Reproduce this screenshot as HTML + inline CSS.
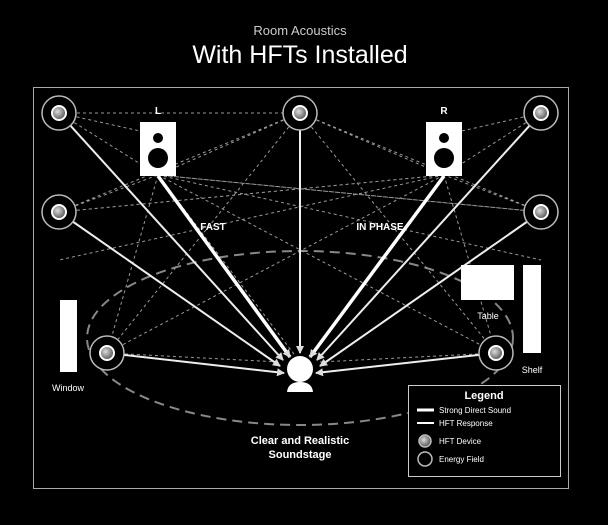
<!DOCTYPE html>
<html><head><style>
body{margin:0;background:#000;width:608px;height:520px;overflow:hidden;font-family:"Liberation Sans",sans-serif}
</style></head><body>
<svg width="608" height="520" xmlns="http://www.w3.org/2000/svg" font-family="Liberation Sans, sans-serif">
<defs>
<marker id="a" markerWidth="8" markerHeight="8" refX="7" refY="4" orient="auto" markerUnits="userSpaceOnUse"><path d="M0,0 L8,4 L0,8 z" fill="#ddd"/></marker>
<radialGradient id="g" cx="40%" cy="40%" r="60%"><stop offset="0" stop-color="#ddd"/><stop offset="1" stop-color="#555"/></radialGradient>
</defs>
<text x="300" y="35" fill="#ccc" font-size="13" text-anchor="middle">Room Acoustics</text>
<text x="300" y="63" fill="#fff" font-size="25" text-anchor="middle">With HFTs Installed</text>
<rect x="33.5" y="87.5" width="535" height="401" fill="none" stroke="#aaa" stroke-width="1"/>
<ellipse cx="300" cy="338" rx="213" ry="87" fill="none" stroke="#888" stroke-width="2" stroke-dasharray="10,6"/>
<g stroke="#999" stroke-width="1" stroke-dasharray="3,3" fill="none">
<path d="M59,113 L158,135 M59,113 L158,175 M59,113 L300,113 M300,113 L158,175 M300,113 L444,175 M541,113 L444,135 M541,113 L444,175 M300,113 L541,212 M300,113 L59,212
M59,212 L158,175 M59,212 L444,175 M541,212 L444,175 M541,212 L158,175 M158,175 L541,260 M444,175 L59,260
M158,175 L107,353 M444,175 L496,353 M158,175 L496,353 M444,175 L107,353 M300,113 L107,353 M300,113 L496,353
M158,175 L300,362 M107,353 L280,362 M496,353 L320,362 M158,175 L541,212 M444,175 L59,212"/>
</g>
<g stroke="#eee" stroke-width="2" marker-end="url(#a)" fill="none">
<line x1="59" y1="113" x2="283" y2="360"/>
<line x1="59" y1="212" x2="280" y2="366"/>
<line x1="541" y1="113" x2="317" y2="360"/>
<line x1="541" y1="212" x2="320" y2="366"/>
<line x1="300" y1="113" x2="300" y2="353"/>
<line x1="107" y1="353" x2="284" y2="373"/>
<line x1="496" y1="353" x2="316" y2="373"/>
</g>
<g stroke="#fff" stroke-width="3.5" marker-end="url(#a)">
<line x1="158" y1="176" x2="290" y2="357"/>
<line x1="444" y1="176" x2="310" y2="357"/>
</g>
<g fill="#000" stroke="#bbb" stroke-width="1.5">
<circle cx="59" cy="113" r="17"/><circle cx="300" cy="113" r="17"/><circle cx="541" cy="113" r="17"/>
<circle cx="59" cy="212" r="17"/><circle cx="541" cy="212" r="17"/><circle cx="107" cy="353" r="17"/><circle cx="496" cy="353" r="17"/>
</g>
<g fill="url(#g)" stroke="#fff" stroke-width="2">
<circle cx="59" cy="113" r="7"/><circle cx="300" cy="113" r="7"/><circle cx="541" cy="113" r="7"/>
<circle cx="59" cy="212" r="7"/><circle cx="541" cy="212" r="7"/><circle cx="107" cy="353" r="7"/><circle cx="496" cy="353" r="7"/>
</g>
<rect x="140" y="122" width="36" height="54" fill="#fff"/><circle cx="158" cy="138" r="5" fill="#000"/><circle cx="158" cy="158" r="10" fill="#000"/>
<rect x="426" y="122" width="36" height="54" fill="#fff"/><circle cx="444" cy="138" r="5" fill="#000"/><circle cx="444" cy="158" r="10" fill="#000"/>
<g fill="#fff" font-size="10" font-weight="bold" text-anchor="middle">
<text x="158" y="114">L</text><text x="444" y="114">R</text>
<text x="213" y="230">FAST</text><text x="380" y="230">IN PHASE</text>
</g>
<circle cx="300" cy="369" r="13" fill="#fff"/>
<path d="M287,392 Q288,382 300,382 Q312,382 313,392 Z" fill="#fff"/>
<rect x="60" y="300" width="17" height="72" fill="#fff"/>
<rect x="461" y="265" width="53" height="35" fill="#fff"/>
<rect x="523" y="265" width="18" height="88" fill="#fff"/>
<g fill="#fff" font-size="9" text-anchor="middle">
<text x="68" y="391">Window</text><text x="488" y="319">Table</text><text x="532" y="373">Shelf</text>
</g>
<g fill="#fff" font-size="11" font-weight="bold" text-anchor="middle">
<text x="300" y="444">Clear and Realistic</text><text x="300" y="458">Soundstage</text>
</g>
<rect x="408.5" y="385.5" width="152" height="91" fill="#000" stroke="#ccc" stroke-width="1"/>
<text x="484" y="399" fill="#fff" font-size="11" font-weight="bold" text-anchor="middle">Legend</text>
<line x1="417" y1="410" x2="434" y2="410" stroke="#fff" stroke-width="3"/>
<line x1="417" y1="423" x2="434" y2="423" stroke="#fff" stroke-width="2"/>
<circle cx="425" cy="441" r="6" fill="url(#g)" stroke="#bbb" stroke-width="1.5"/>
<circle cx="425" cy="459" r="7" fill="none" stroke="#bbb" stroke-width="1.5"/>
<g fill="#fff" font-size="8">
<text x="439" y="413">Strong Direct Sound</text><text x="439" y="426">HFT Response</text>
<text x="439" y="444">HFT Device</text><text x="439" y="462">Energy Field</text>
</g>
</svg>
</body></html>
